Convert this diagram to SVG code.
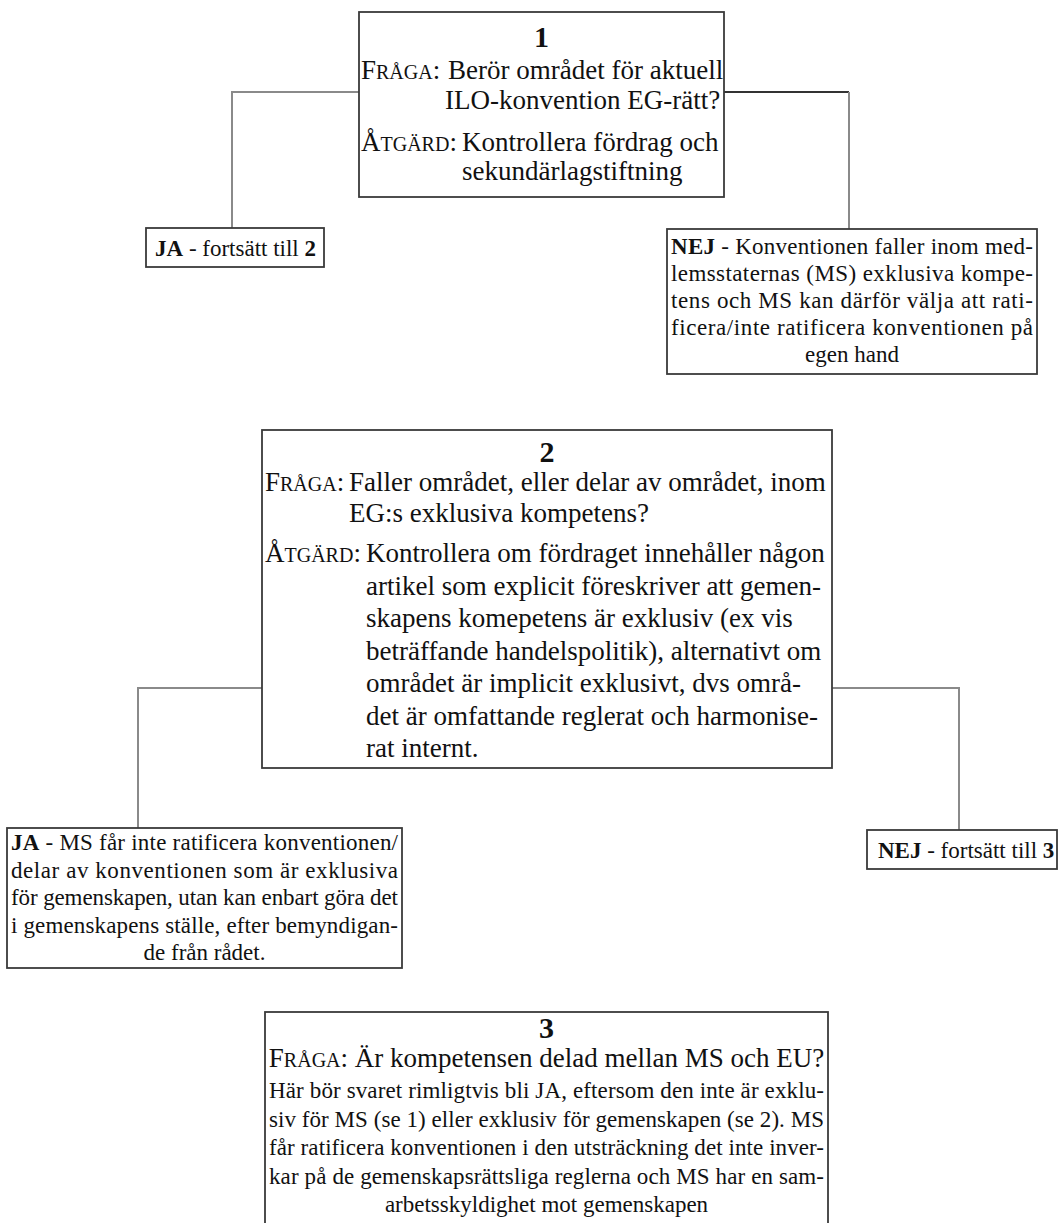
<svg xmlns="http://www.w3.org/2000/svg" width="1059" height="1223" viewBox="0 0 1059 1223">
<style>
.box{fill:#fff;stroke:#3a3a3a;stroke-width:1.8}
.conn{fill:none;stroke:#8a8a8a;stroke-width:2}
.dark{stroke:#333}
text{font-family:"Liberation Serif","Times New Roman",serif;fill:#111}
.m{font-size:27px}
.s{font-size:23px}
.num{font-size:30px;font-weight:bold}
.sc{font-size:20px}
.b{font-weight:bold}
</style>
<rect width="1059" height="1223" fill="#fff"/>
<g id="connectors">
<path class="conn" d="M359 92 H232 V228"/>
<path class="conn dark" d="M724 92 H849"/>
<path class="conn" d="M849 92 V229"/>
<path class="conn" d="M262 688 H138 V828"/>
<path class="conn" d="M832 688 H959 V830"/>
</g>
<g id="node1">
<rect class="box" x="359" y="12" width="365" height="185"/>
<text class="num" x="541.5" y="47" text-anchor="middle">1</text>
<text class="m" x="361" y="79">F<tspan class="sc">RÅGA</tspan>:</text>
<text class="m" x="448" y="79">Berör området för aktuell</text>
<text class="m" x="445" y="109">ILO-konvention EG-rätt?</text>
<text class="m" x="361" y="151">Å<tspan class="sc">TGÄRD</tspan>:</text>
<text class="m" x="462" y="151">Kontrollera fördrag och</text>
<text class="m" x="462" y="180">sekundärlagstiftning</text>
</g>
<g id="ja1">
<rect class="box" x="146" y="228" width="178" height="39"/>
<text class="s" x="155" y="256"><tspan class="b">JA</tspan> - fortsätt till <tspan class="b">2</tspan></text>
</g>
<g id="nej1">
<rect class="box" x="667" y="229" width="370" height="145"/>
<text class="s" x="671" y="254" textLength="362" lengthAdjust="spacing"><tspan class="b">NEJ</tspan> - Konventionen faller inom med-</text>
<text class="s" x="671" y="281" textLength="362" lengthAdjust="spacing">lemsstaternas (MS) exklusiva kompe-</text>
<text class="s" x="671" y="308" textLength="362" lengthAdjust="spacing">tens och MS kan därför välja att rati-</text>
<text class="s" x="671" y="335" textLength="362" lengthAdjust="spacing">ficera/inte ratificera konventionen på</text>
<text class="s" x="852" y="362" text-anchor="middle">egen hand</text>
</g>
<g id="node2">
<rect class="box" x="262" y="430" width="570" height="338"/>
<text class="num" x="547" y="462" text-anchor="middle">2</text>
<text class="m" x="265" y="491">F<tspan class="sc">RÅGA</tspan>:</text>
<text class="m" x="349" y="491">Faller området, eller delar av området, inom</text>
<text class="m" x="349" y="522">EG:s exklusiva kompetens?</text>
<text class="m" x="265" y="562">Å<tspan class="sc">TGÄRD</tspan>:</text>
<text class="m" x="366" y="562">Kontrollera om fördraget innehåller någon</text>
<text class="m" x="366" y="594.5">artikel som explicit föreskriver att gemen-</text>
<text class="m" x="366" y="627">skapens komepetens är exklusiv (ex vis</text>
<text class="m" x="366" y="659.5">beträffande handelspolitik), alternativt om</text>
<text class="m" x="366" y="692">området är implicit exklusivt, dvs områ-</text>
<text class="m" x="366" y="724.5">det är omfattande reglerat och harmonise-</text>
<text class="m" x="366" y="757">rat internt.</text>
</g>
<g id="ja2">
<rect class="box" x="7" y="828" width="395" height="140"/>
<text class="s" x="11" y="850" textLength="387" lengthAdjust="spacing"><tspan class="b">JA</tspan> - MS får inte ratificera konventionen/</text>
<text class="s" x="11" y="877.5" textLength="387" lengthAdjust="spacing">delar av konventionen som är exklusiva</text>
<text class="s" x="11" y="905" textLength="387" lengthAdjust="spacing">för gemenskapen, utan kan enbart göra det</text>
<text class="s" x="11" y="932.5" textLength="387" lengthAdjust="spacing">i gemenskapens ställe, efter bemyndigan-</text>
<text class="s" x="204.5" y="960" text-anchor="middle">de från rådet.</text>
</g>
<g id="nej3">
<rect class="box" x="867" y="830" width="190" height="39"/>
<text class="s" x="878" y="858"><tspan class="b">NEJ</tspan> - fortsätt till <tspan class="b">3</tspan></text>
</g>
<g id="node3">
<rect class="box" x="265" y="1012" width="563" height="240"/>
<text class="num" x="546.5" y="1038" text-anchor="middle">3</text>
<text class="m" x="546.5" y="1067" text-anchor="middle">F<tspan class="sc">RÅGA</tspan>: Är kompetensen delad mellan MS och EU?</text>
<text class="s" x="269" y="1098" textLength="555" lengthAdjust="spacing">Här bör svaret rimligtvis bli JA, eftersom den inte är exklu-</text>
<text class="s" x="269" y="1126.5" textLength="555" lengthAdjust="spacing">siv för MS (se 1) eller exklusiv för gemenskapen (se 2). MS</text>
<text class="s" x="269" y="1155" textLength="555" lengthAdjust="spacing">får ratificera konventionen i den utsträckning det inte inver-</text>
<text class="s" x="269" y="1183.5" textLength="555" lengthAdjust="spacing">kar på de gemenskapsrättsliga reglerna och MS har en sam-</text>
<text class="s" x="546.5" y="1212" text-anchor="middle">arbetsskyldighet mot gemenskapen</text>
</g>
</svg>
